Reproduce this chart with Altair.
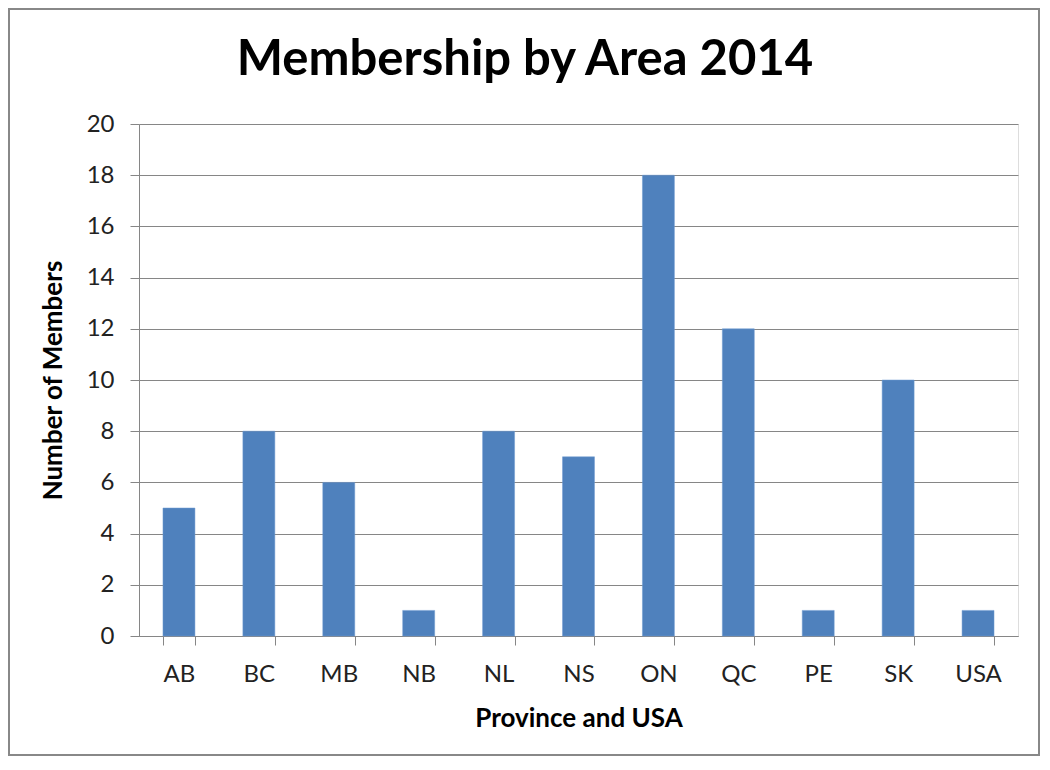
import altair as alt
import pandas as pd

areas = ["AB", "BC", "MB", "NB", "NL", "NS", "ON", "QC", "PE", "SK", "USA"]
members = [5, 8, 6, 1, 8, 7, 18, 12, 1, 10, 1]
y_ticks = [0, 2, 4, 6, 8, 10, 12, 14, 16, 18, 20]
title_text = "Membership by Area 2014"
x_title = "Province and USA"
y_title = "Number of Members"

df = pd.DataFrame({"area": areas, "members": members})

W, H = 879, 512
PL, PT, PR, PB = 131, 116, 22, 120
FONT = "Lato"
GRAY = "#868686"

bars = alt.Chart(df).mark_bar(color="#4F81BD", stroke="#6F9AD0", strokeWidth=0.5).encode(
    x=alt.X("area:N", sort=areas,
            scale=alt.Scale(paddingInner=0.6, paddingOuter=0.3),
            axis=alt.Axis(title=x_title, labelAngle=0, tickBand="extent",
                          tickSize=9, tickColor=GRAY, domainColor=GRAY,
                          labelPadding=17, labelFontSize=24, labelColor="#222222",
                          titleFontSize=26, titleFontWeight="bold", titleColor="#000000",
                          titlePadding=19, grid=False)),
    y=alt.Y("members:Q",
            scale=alt.Scale(domain=[0, 20], nice=False),
            axis=alt.Axis(title=y_title, values=y_ticks, tickSize=9, tickColor=GRAY,
                          domainColor=GRAY, gridColor=GRAY, gridOpacity=1,
                          labelPadding=16, labelFontSize=24, labelColor="#222222",
                          titleFontSize=26, titleFontWeight="bold", titleColor="#000000",
                          titlePadding=20)),
)

title = alt.Chart(pd.DataFrame({"t": [title_text]})).mark_text(
    fontSize=49, fontWeight="bold", font=FONT, color="#000000",
    align="center", baseline="middle"
).encode(text="t:N", x=alt.value(525 - 139), y=alt.value(60 - 124))

border = alt.Chart(pd.DataFrame({"b": [0]})).mark_rect(
    fill=None, stroke="#888888", strokeWidth=2
).encode(
    x=alt.value(-PL + 1), x2=alt.value(W + PR - 1),
    y=alt.value(-PT + 1), y2=alt.value(H + PB - 1),
)

chart = alt.layer(bars, title, border).properties(
    width=W, height=H,
    autosize=alt.AutoSizeParams(type="none"),
    padding={"left": PL, "top": PT, "right": PR, "bottom": PB},
).configure_view(strokeWidth=0).configure(font=FONT)

chart.save("out.html", embed_options={"renderer": "svg", "actions": False})
